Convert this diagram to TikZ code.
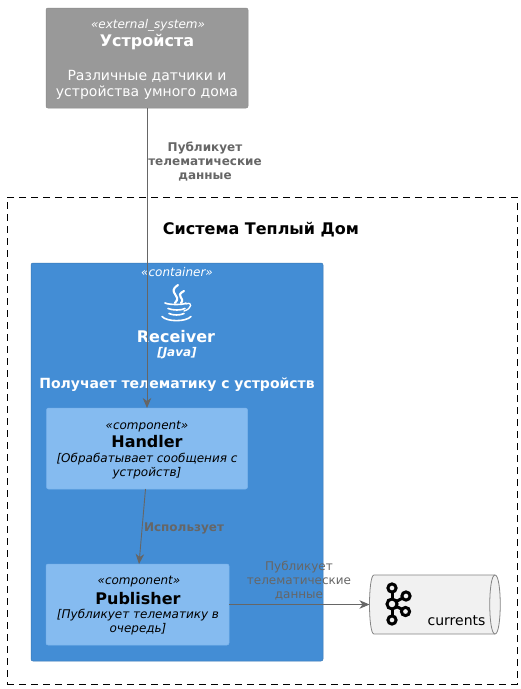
\documentclass[tikz,border=0pt]{standalone}
\usepackage{fontspec}
\setmainfont{DejaVu Sans}
\usetikzlibrary{arrows.meta}
\definecolor{extgray}{HTML}{999999}
\definecolor{contblue}{HTML}{438DD5}
\definecolor{compblue}{HTML}{85BBF0}
\definecolor{linegray}{HTML}{666666}
\definecolor{labelgray}{HTML}{666666}
\definecolor{qfill}{HTML}{F1F1F1}
\tikzset{
  boxbase/.style={rectangle,rounded corners=2pt,minimum width=#1,inner sep=0pt,outer sep=0pt},
  extbox/.style={boxbase=202pt,minimum height=100pt,fill=extgray,draw=extgray!90!black,line width=.5pt},
  contbox/.style={boxbase=292pt,minimum height=398pt,fill=contblue,draw=contblue!85!black,line width=.5pt},
  handlerbox/.style={boxbase=201pt,minimum height=81pt,fill=compblue,draw=compblue!85!contblue,line width=.5pt},
  pubbox/.style={boxbase=183pt,minimum height=81pt,fill=compblue,draw=compblue!85!contblue,line width=.5pt},
  txt/.style={inner sep=0pt,outer sep=0pt,anchor=base,align=center},
  conn/.style={draw=linegray,line width=.9pt,-{Stealth[length=10pt,width=8.5pt,inset=3pt]}},
  lbl/.style={txt,font=\fontsize{12}{14}\selectfont\bfseries,text=labelgray},
  lblthin/.style={txt,font=\fontsize{12}{14}\selectfont,text=linegray},
  stereo/.style={txt,font=\fontsize{12}{14}\selectfont\itshape},
  ttl/.style={txt,font=\fontsize{16}{19}\selectfont\bfseries},
}
\begin{document}
\begin{tikzpicture}[x=1pt,y=-1pt]
\useasboundingbox (0,0) rectangle (521,689);
\fill[white] (0,0) rectangle (521,689);
% boundary
\node[rectangle,draw=black,dash pattern=on 7pt off 5pt,line width=.8pt,minimum width=510pt,minimum height=487pt,inner sep=0pt,outer sep=0pt] (boundary) at (262,440.5) {};
\node[txt,font=\fontsize{16}{19}\selectfont\bfseries] (boundarytitle) at (261,234) {Система Теплый Дом};
% boxes
\node[extbox] (devices) at (147,58) {};
\node[contbox] (receiver) at (177,462) {};
\node[handlerbox] (handler) at (147,448.5) {};
\node[pubbox] (publisher) at (137.5,604.5) {};
% queue
\node[rectangle,minimum width=130pt,minimum height=59pt,inner sep=0pt,outer sep=0pt] (queue) at (434.5,604.5) {};
\draw[draw=linegray!80!white,line width=.8pt,fill=qfill]
  (374,575) -- (495,575) .. controls (502,575) and (502,634) .. (495,634) -- (374,634)
  .. controls (368,634) and (368,575) .. (374,575) -- cycle;
\draw[draw=linegray!80!white,line width=.8pt]
  (495,575) .. controls (488,575) and (488,634) .. (495,634);
% kafka icon
\begin{scope}[draw=black,line width=3pt]
  \draw (392,588) -- (392,620);
  \draw (392,604) -- (406,596);
  \draw (392,604) -- (406,611.5);
  \filldraw[fill=qfill] (392,588) circle (4.1pt);
  \filldraw[fill=qfill] (392,604) circle (5pt);
  \filldraw[fill=qfill] (392,620) circle (4.1pt);
  \filldraw[fill=qfill] (406,596) circle (4.1pt);
  \filldraw[fill=qfill] (405.5,611.5) circle (4.1pt);
\end{scope}
\node[txt,font=\fontsize{14}{17}\selectfont] (qlabel) at (456.5,625) {currents};
% external text
\node[stereo,text=white] (s1) at (148,28) {«external\_system»};
\node[ttl,text=white] (t1) at (147,46) {Устройста};
\node[txt,text=white,font=\fontsize{14}{17}\selectfont] (d1) at (147,80) {Различные датчики и};
\node[txt,text=white,font=\fontsize{14}{17}\selectfont] (d2) at (147,96) {устройства умного дома};
% receiver text
\node[stereo,text=white] (s2) at (177,276) {«container»};
\begin{scope}[draw=white,line cap=round,line width=2.1pt]
  \draw (178,285) .. controls (166,293) and (183,295) .. (175,303);
  \draw (184,291) .. controls (174,296) and (186,298) .. (181,303);
  \draw[line width=1.6pt] (165,303) .. controls (169,305) and (184,305) .. (186,303);
  \draw[line width=1.6pt] (168,308.5) .. controls (173,310.5) and (181,310.5) .. (185,308.5);
  \draw[line width=1.6pt] (169,313.5) .. controls (173,315.5) and (180,315.5) .. (184,313.5);
  \draw[line width=1.6pt] (162,316.5) .. controls (167,322) and (186,322) .. (191,316.5);
  \draw[line width=1.3pt] (186,304) .. controls (193,301) and (192,309) .. (184,311);
\end{scope}
\node[ttl,text=white] (t2) at (176,342) {Receiver};
\node[txt,text=white,font=\fontsize{12}{14}\selectfont\bfseries\itshape] (j2) at (177,356) {[Java]};
\node[txt,text=white,font=\fontsize{14}{16}\selectfont\bfseries] (d3) at (177,388) {Получает телематику с устройств};
% handler text
\node[stereo] (s3) at (147,429) {«component»};
\node[ttl] (t3) at (147,447) {Handler};
\node[stereo] (d4) at (147,462) {[Обрабатывает сообщения с};
\node[stereo] (d5) at (147,476) {устройств]};
% publisher text
\node[stereo] (s4) at (139,584) {«component»};
\node[ttl] (t4) at (138,604) {Publisher};
\node[stereo] (d6) at (138,618) {[Публикует телематику в};
\node[stereo] (d7) at (138,632) {очередь]};
% connectors
\draw[conn] (devices.south) -- (handler.north);
\coordinate (hs) at ([xshift=-1.5pt]handler.south);
\coordinate (pn) at ([xshift=1.5pt]publisher.north);
\draw[conn] (hs) -- (pn);
\draw[conn] (publisher.east) -- (queue.west);
% connector labels
\node[lbl] (l1a) at (205,151) {Публикует};
\node[lbl] (l1b) at (205,165) {телематические};
\node[lbl] (l1c) at (205,179) {данные};
\node[lbl] (l2) at (184,531) {Использует};
\node[lblthin] (l3a) at (299,570) {Публикует};
\node[lblthin] (l3b) at (299,584) {телематические};
\node[lblthin] (l3c) at (299,598) {данные};
\end{tikzpicture}
\end{document}
